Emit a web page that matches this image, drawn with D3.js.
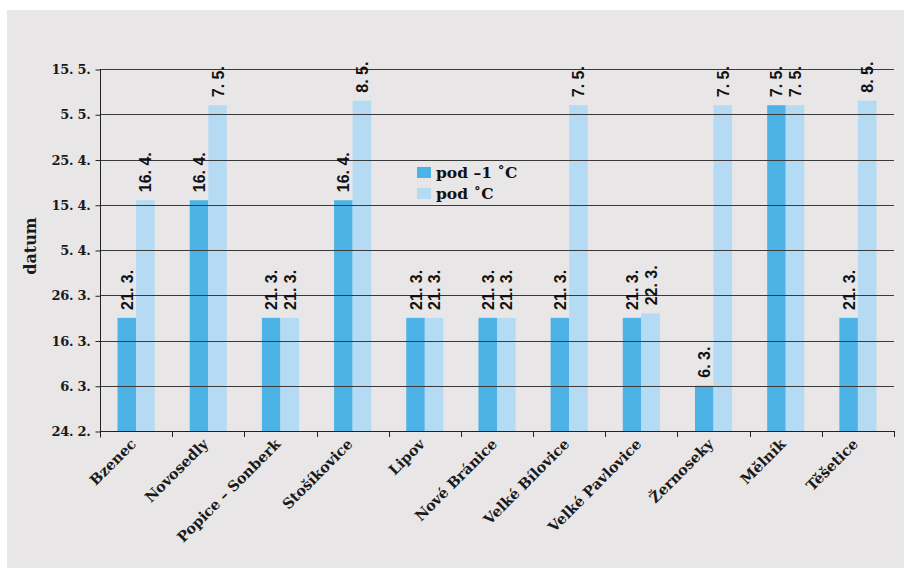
<!DOCTYPE html>
<html>
<head>
<meta charset="utf-8">
<script src="https://cdn.jsdelivr.net/npm/d3@7"></script>
<style>
  html, body { margin: 0; padding: 0; background: #ffffff; }
  svg { display: block; }
</style>
</head>
<body>
<svg id="chart" width="904" height="568"></svg>
<script>
// Stations
const stations = ["Bzenec", "Novosedly", "Popice – Sonberk", "Stošíkovice", "Lipov", "Nové Bránice",
  "Velké Bílovice", "Velké Pavlovice", "Žernoseky", "Mělník", "Těšetice"];

// Date of last frost, as day offset from 24. 2.
const below1 = [25, 51, 25, 51, 25, 25, 25, 25, 10, 72, 25];   // pod –1 ˚C
const below0 = [51, 72, 25, 73, 25, 25, 72, 26, 72, 72, 73];   // pod ˚C

// Label text for each bar
const below1Labels = ["21. 3.", "16. 4.", "21. 3.", "16. 4.", "21. 3.", "21. 3.", "21. 3.", "21. 3.", "6. 3.", "7. 5.", "21. 3."];
const below0Labels = ["16. 4.", "7. 5.", "21. 3.", "8. 5.", "21. 3.", "21. 3.", "7. 5.", "22. 3.", "7. 5.", "7. 5.", "8. 5."];

// Y axis ticks
const tickValues = [0, 10, 20, 30, 40, 50, 60, 70, 80];
const tickLabels = ["24. 2.", "6. 3.", "16. 3.", "26. 3.", "5. 4.", "15. 4.", "25. 4.", "5. 5.", "15. 5."];

const seriesNames = ["pod –1 ˚C", "pod  ˚C"];
const colors = ["#4db3e6", "#b5daf4"];

(function () {
  const svg = d3.select("#chart");
  const W = 904, H = 568;
  const pL = 100, pR = 894, pT = 69, pB = 431;

  // panel
  svg.append("rect").attr("x", 7).attr("y", 10).attr("width", W - 7).attr("height", H - 10).attr("fill", "#e8e6e7");

  const x = d3.scaleBand().domain(stations).range([pL, pR]).padding(0);
  const y = d3.scaleLinear().domain([0, 80]).range([pB, pT]);

  const bw = x.bandwidth() * 0.257;
  const groupOffset = (x.bandwidth() - 2 * bw) / 2;

  const serif = "'DejaVu Serif', serif";
  const sans = "'Liberation Sans', Arial, sans-serif";

  // bars
  const series = [below1, below0];
  series.forEach((vals, si) => {
    svg.append("g").selectAll("rect").data(stations).join("rect")
      .attr("x", (d) => x(d) + groupOffset + si * bw)
      .attr("y", (d, i) => y(vals[i]))
      .attr("width", bw)
      .attr("height", (d, i) => y(0) - y(vals[i]))
      .attr("fill", colors[si]);
  });

  // gridlines drawn over bars
  svg.append("g").selectAll("line").data(tickValues.slice(1)).join("line")
    .attr("x1", pL).attr("x2", pR)
    .attr("y1", (d) => Math.round(y(d)) + 0.5).attr("y2", (d) => Math.round(y(d)) + 0.5)
    .attr("stroke", "#3a3a3a").attr("stroke-width", 1);

  // y axis
  const yAxis = d3.axisLeft(y).tickValues(tickValues).tickFormat((d, i) => tickLabels[i]).tickSize(5).tickPadding(5);
  const gy = svg.append("g").attr("transform", `translate(${pL + 0.5},0.5)`).call(yAxis);
  gy.select(".domain").attr("stroke", "#222").attr("d", `M0,${pT - 0.5}V${pB + 6}`);
  gy.selectAll(".tick line").attr("stroke", "#222");
  gy.selectAll(".tick text").attr("font-family", serif).attr("font-weight", "bold").attr("font-size", 13)
    .attr("letter-spacing", -0.3).attr("fill", "#1a1a1a");

  // x axis: ticks at band boundaries
  const boundaries = stations.map((s) => x(s)).concat([pR]);
  svg.append("line").attr("x1", pL).attr("x2", pR + 0.5).attr("y1", pB + 0.5).attr("y2", pB + 0.5).attr("stroke", "#222");
  svg.append("g").selectAll("line").data(boundaries).join("line")
    .attr("x1", (d) => Math.round(d) + 0.5).attr("x2", (d) => Math.round(d) + 0.5)
    .attr("y1", pB).attr("y2", pB + 6).attr("stroke", "#222");

  // category labels
  svg.append("g").selectAll("text").data(stations).join("text")
    .attr("transform", (d) => `translate(${x(d) + x.bandwidth() / 2 + 1},${pB + 14}) rotate(-45)`)
    .attr("text-anchor", "end")
    .attr("font-family", serif).attr("font-weight", "bold").attr("font-size", 14.5)
    .attr("fill", "#1a1a1a")
    .text((d) => d);

  // value labels
  const labelSets = [below1Labels, below0Labels];
  series.forEach((vals, si) => {
    svg.append("g").selectAll("text").data(stations).join("text")
      .attr("transform", (d, i) => `translate(${x(d) + groupOffset + si * bw + bw / 2 + 6},${y(vals[i]) - 8}) rotate(-90)`)
      .attr("text-anchor", "start")
      .attr("font-family", sans).attr("font-weight", "bold").attr("font-size", 16)
      .attr("fill", "#111")
      .text((d, i) => labelSets[si][i]);
  });

  // y title
  svg.append("text")
    .attr("transform", `translate(36,${(pT + pB) / 2 - 4}) rotate(-90)`)
    .attr("text-anchor", "middle")
    .attr("font-family", serif).attr("font-weight", "bold").attr("font-size", 16)
    .attr("fill", "#1a1a1a")
    .text("datum");

  // legend
  const legend = svg.append("g").attr("transform", "translate(417,167)");
  seriesNames.forEach((name, i) => {
    const g = legend.append("g").attr("transform", `translate(0,${i * 21})`);
    g.append("rect").attr("x", 0).attr("y", 0).attr("width", 14).attr("height", 11).attr("fill", colors[i]);
    g.append("text").attr("x", 19).attr("y", 11)
      .attr("font-family", serif).attr("font-weight", "bold").attr("font-size", 15.5)
      .attr("fill", "#111").text(name);
  });
})();
</script>
</body>
</html>
